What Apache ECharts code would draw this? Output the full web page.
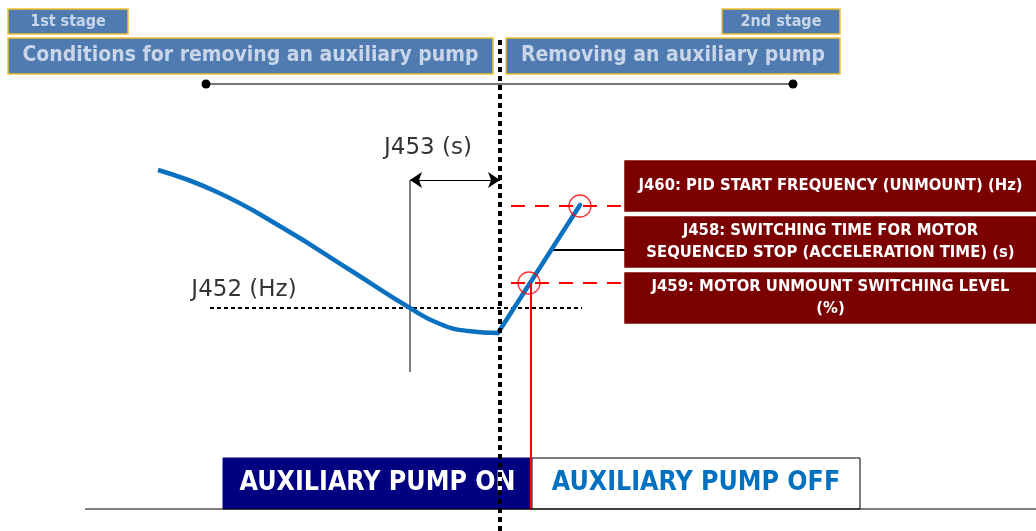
<!DOCTYPE html>
<html>
<head>
<meta charset="utf-8">
<script src="https://cdn.jsdelivr.net/npm/echarts@6/dist/echarts.min.js"></script>
<style>
html, body { margin: 0; padding: 0; background: #fff; }
#chart { width: 1036px; height: 531px; }
</style>
</head>
<body>
<div id="chart"></div>
<script>
// diagram coordinates (x to the right, y downward, same units as the picture)
var stageTags = ['1st stage', '2nd stage'];
var stageTagBoxes = [[8, 9, 128, 34], [722, 9, 840, 34]];
var stageTitles = ['Conditions for removing an auxiliary pump', 'Removing an auxiliary pump'];
var stageTitleBoxes = [[8, 38, 493, 74], [506, 38, 840, 74]];
var paramNames = [
	'J460: PID START FREQUENCY (UNMOUNT) (Hz)',
	'J458: SWITCHING TIME FOR MOTOR\nSEQUENCED STOP (ACCELERATION TIME) (s)',
	'J459: MOTOR UNMOUNT SWITCHING LEVEL\n(%)'
];
var paramBoxes = [[625, 161, 1036, 211], [625, 217, 1036, 267], [625, 273, 1036, 323]];
var pumpStates = ['AUXILIARY PUMP ON', 'AUXILIARY PUMP OFF'];
var pumpBoxes = [[223, 458, 532, 509], [532, 458, 860, 509]];

// frequency curve
var curveX = [158, 217, 283, 350, 410, 440, 468, 498];
var curveY = [170, 192, 228, 270, 308, 324, 331, 333];
var rampX = [498, 580];
var rampY = [333, 205];

var j460Y = 206;
var j459Y = 283;
var j459X = 530;
var j452Y = 308;
var stageSplitX = 500;
var j453StartX = 410;

function pts(xs, ys) {
	var out = [];
	for (var i = 0; i < xs.length; i++) out.push([xs[i], ys[i]]);
	return out;
}

function boxSeries(name, boxes, texts, style) {
	return {
		name: name,
		type: 'custom',
		silent: true,
		z: 5,
		data: boxes.map(function (b, i) { return b.concat([i]); }),
		renderItem: function (params, api) {
			var p0 = api.coord([api.value(0), api.value(1)]);
			var p1 = api.coord([api.value(2), api.value(3)]);
			var i = api.value(4);
			var s = style(i);
			return {
				type: 'rect',
				shape: { x: p0[0], y: p0[1], width: p1[0] - p0[0], height: p1[1] - p0[1] },
				style: { fill: s.fill, stroke: s.stroke, lineWidth: s.lineWidth || 1.5 },
				textContent: {
					style: {
						text: texts[i],
						fill: s.color,
						font: s.font,
						align: 'center',
						lineHeight: s.lineHeight
					}
				},
				textConfig: { position: 'inside' }
			};
		}
	};
}

var myChart = echarts.init(document.getElementById('chart'));

myChart.setOption({
	animation: false,
	grid: { left: 0, right: 0, top: 0, bottom: 0 },
	xAxis: { type: 'value', min: 0, max: 1036, show: false },
	yAxis: { type: 'value', min: 0, max: 531, inverse: true, show: false },
	series: [
		boxSeries('tags', stageTagBoxes, stageTags, function () {
			return { fill: '#4f7bb1', stroke: '#f2c12e', color: '#c9d6ea', font: 'bold 16px "DejaVu Sans Condensed"' };
		}),
		boxSeries('titles', stageTitleBoxes, stageTitles, function () {
			return { fill: '#4f7bb1', stroke: '#f2c12e', color: '#c9d6ea', font: 'bold 21px "DejaVu Sans Condensed"' };
		}),
		boxSeries('params', paramBoxes, paramNames, function () {
			return { fill: '#7b0000', stroke: '#7b0000', color: '#ffffff', font: 'bold 16.5px "DejaVu Sans Condensed"', lineHeight: 22 };
		}),
		boxSeries('pump', pumpBoxes, pumpStates, function (i) {
			return i === 0
				? { fill: '#000080', stroke: '#000080', color: '#ffffff', font: 'bold 26.5px "DejaVu Sans Condensed"', lineWidth: 1 }
				: { fill: '#ffffff', stroke: '#000000', color: '#0070c0', font: 'bold 26.5px "DejaVu Sans Condensed"', lineWidth: 1 };
		}),
		{
			// stage span line
			type: 'line',
			data: [[206, 84], [793, 84]],
			symbol: 'circle',
			symbolSize: 9,
			itemStyle: { color: '#000' },
			lineStyle: { color: '#777', width: 2 },
			silent: true,
			z: 3
		},
		{
			// stage split
			type: 'line',
			data: [[stageSplitX, 40], [stageSplitX, 531]],
			symbol: 'none',
			lineStyle: { color: '#000', width: 4, type: [5, 4] },
			silent: true,
			z: 6
		},
		{
			// J452 level
			type: 'line',
			data: [[210, j452Y], [582, j452Y]],
			symbol: 'none',
			lineStyle: { color: '#000', width: 2, type: [4, 3] },
			silent: true,
			z: 3
		},
		{
			// J453 timer marker
			type: 'line',
			data: [[j453StartX, 180], [j453StartX, 372]],
			symbol: 'none',
			lineStyle: { color: '#000', width: 1 },
			silent: true,
			z: 3
		},
		{
			type: 'lines',
			coordinateSystem: 'cartesian2d',
			data: [{ coords: [[j453StartX, 180], [stageSplitX, 180]] }],
			symbol: ['arrow', 'arrow'],
			symbolSize: 12,
			lineStyle: { color: '#000', width: 1, opacity: 1 },
			silent: true,
			z: 4
		},
		{
			// J460 / J459 levels
			type: 'line',
			data: [[511, j460Y], [625, j460Y]],
			symbol: 'none',
			lineStyle: { color: '#ff0000', width: 2, type: [14, 10] },
			silent: true,
			z: 3
		},
		{
			type: 'line',
			data: [[511, j459Y], [625, j459Y]],
			symbol: 'none',
			lineStyle: { color: '#ff0000', width: 2, type: [14, 10] },
			silent: true,
			z: 3
		},
		{
			type: 'line',
			data: [[j459X + 1, j459Y], [j459X + 1, 510]],
			symbol: 'none',
			lineStyle: { color: '#ff0000', width: 2 },
			silent: true,
			z: 7
		},
		{
			// J458 leader
			type: 'line',
			data: [[553, 250], [625, 250]],
			symbol: 'none',
			lineStyle: { color: '#000', width: 2 },
			silent: true,
			z: 3
		},
		{
			// baseline
			type: 'line',
			data: [[85, 509], [1036, 509]],
			symbol: 'none',
			lineStyle: { color: '#000', width: 1 },
			silent: true,
			z: 8
		},
		{
			name: 'frequency',
			type: 'line',
			data: pts(curveX, curveY),
			smooth: 0.5,
			symbol: 'none',
			lineStyle: { color: '#0a70c0', width: 4.5 },
			silent: true,
			z: 5
		},
		{
			type: 'line',
			data: pts(rampX, rampY),
			symbol: 'none',
			lineStyle: { color: '#0a70c0', width: 4.5, cap: 'round' },
			silent: true,
			z: 5
		},
		{
			type: 'scatter',
			data: [[580, j460Y], [529, j459Y]],
			symbol: 'circle',
			symbolSize: 22,
			itemStyle: { color: 'rgba(0,0,0,0)', borderColor: '#ff0000', borderWidth: 1.3 },
			silent: true,
			z: 9
		},
		{
			type: 'scatter',
			data: [
				{ value: [428, 148], label: { formatter: 'J453 (s)' } },
				{ value: [244, 290], label: { formatter: 'J452 (Hz)' } }
			],
			symbolSize: 0,
			label: { show: true, position: 'inside', color: '#000', fontSize: 23, fontFamily: 'DejaVu Sans' },
			silent: true,
			z: 9
		}
	]
});
</script>
</body>
</html>
